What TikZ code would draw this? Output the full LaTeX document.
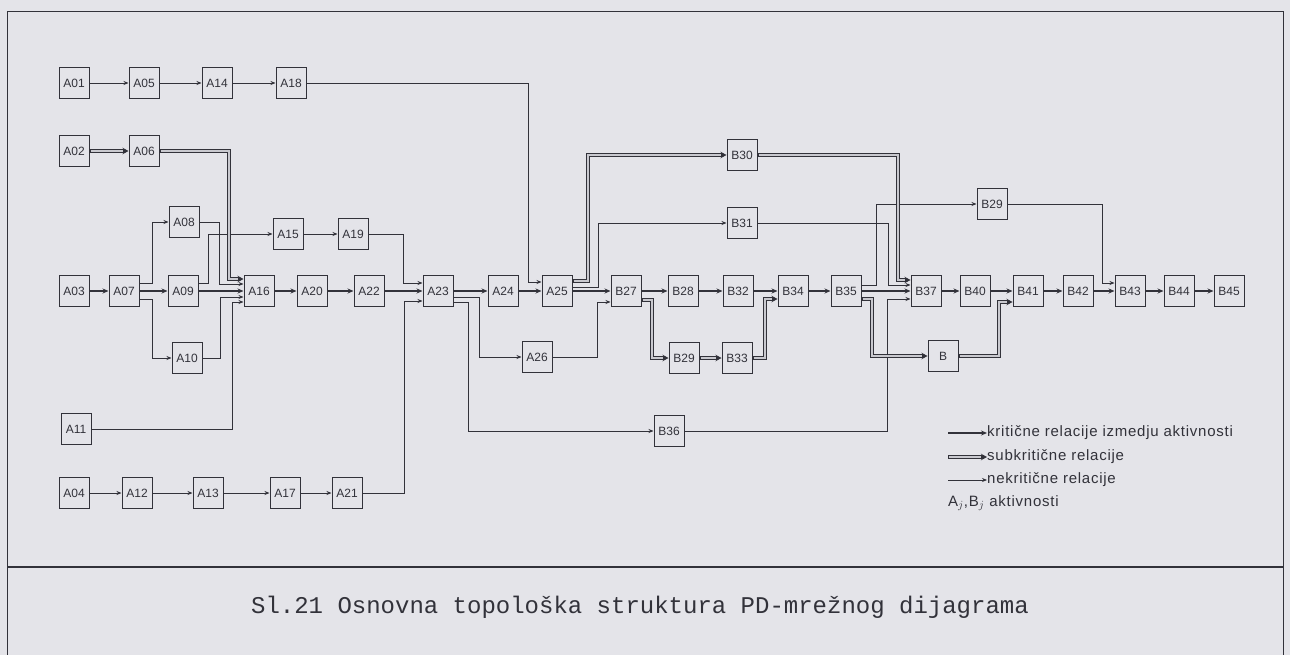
\documentclass[tikz,border=0pt]{standalone}
\usepackage{fontspec}
\setmainfont{Liberation Sans}
\newfontfamily\capfont{Liberation Mono}
\newfontfamily\legfont[LetterSpace=5]{Liberation Sans}
\usetikzlibrary{arrows.meta}
\definecolor{bg}{RGB}{228,228,233}
\definecolor{ink}{RGB}{50,50,58}
\begin{document}
\begin{tikzpicture}[x=1pt,y=-1pt,
  box/.style={draw=ink,line width=1pt,minimum width=30pt,minimum height=31pt,inner sep=0pt,font=\fontsize{12}{12}\selectfont,text=ink},
  nc/.style={draw=ink,line width=0.9pt,-{Stealth[length=5pt,width=4pt]}},
  cr/.style={draw=ink,line width=1.8pt,-{Stealth[length=6pt,width=5pt]}},
  sc/.style={draw=ink,line width=3.8pt,-{Stealth[length=6pt,width=6.5pt]},
     postaction={draw=bg!85!ink,line width=1.4pt,-,shorten >=6pt,shorten <=1.2pt}},
  legtext/.style={anchor=west,font=\legfont\fontsize{15}{15}\selectfont,text=ink,inner sep=0pt}
]
\fill[bg] (0,0) rectangle (1290,655);
\useasboundingbox (0,0) rectangle (1290,655);
\draw[ink,line width=1pt] (7,655) -- (7,12) -- (1283,12) -- (1283,655);
\draw[ink,line width=1.4pt] (7,567) -- (1283,567);
\node[font=\capfont\fontsize{24}{24}\selectfont,text=ink] (cap) at (640,607) {Sl.21 Osnovna topološka struktura PD-mrežnog dijagrama};

% nodes
\node[box] (A01) at (74,83) {A01};
\node[box] (A05) at (144,83) {A05};
\node[box] (A14) at (217,83) {A14};
\node[box] (A18) at (291,83) {A18};
\node[box] (A02) at (74,151) {A02};
\node[box] (A06) at (144,151) {A06};
\node[box] (A08) at (184,222) {A08};
\node[box] (A15) at (288,234) {A15};
\node[box] (A19) at (353,234) {A19};
\node[box] (A03) at (74,291) {A03};
\node[box] (A07) at (124,291) {A07};
\node[box] (A09) at (183,291) {A09};
\node[box] (A16) at (259,291) {A16};
\node[box] (A20) at (312,291) {A20};
\node[box] (A22) at (369,291) {A22};
\node[box] (A23) at (438,291) {A23};
\node[box] (A24) at (503,291) {A24};
\node[box] (A25) at (557,291) {A25};
\node[box] (B27) at (626,291) {B27};
\node[box] (B28) at (683,291) {B28};
\node[box] (B32) at (738,291) {B32};
\node[box] (B34) at (793,291) {B34};
\node[box] (B35) at (846,291) {B35};
\node[box] (B37) at (926,291) {B37};
\node[box] (B40) at (975,291) {B40};
\node[box] (B41) at (1028,291) {B41};
\node[box] (B42) at (1078,291) {B42};
\node[box] (B43) at (1130,291) {B43};
\node[box] (B44) at (1179,291) {B44};
\node[box] (B45) at (1229,291) {B45};
\node[box] (A10) at (187,358) {A10};
\node[box] (A11) at (76,429) {A11};
\node[box] (A04) at (74,493) {A04};
\node[box] (A12) at (137,493) {A12};
\node[box] (A13) at (208,493) {A13};
\node[box] (A17) at (285,493) {A17};
\node[box] (A21) at (347,493) {A21};
\node[box] (A26) at (537,357) {A26};
\node[box] (B29b) at (684,358) {B29};
\node[box] (B33) at (737,358) {B33};
\node[box] (B36) at (669,431) {B36};
\node[box] (B) at (943,356) {B};
\node[box] (B30) at (742,155) {B30};
\node[box] (B31) at (742,223) {B31};
\node[box] (B29t) at (992,204) {B29};

% non-critical
\draw[nc] (A01) -- (A05);
\draw[nc] (A05) -- (A14);
\draw[nc] (A14) -- (A18);
\draw[nc] (A18.east) -| (528,282) -- (A25.west |- 0,282);
\draw[nc] (A07.east |- 0,283) -- (152,283) |- (A08.west);
\draw[nc] (A07.east |- 0,299) -- (152,299) |- (A10.west);
\draw[nc] (A08.east) -| (219,284) -- (A16.west |- 0,284);
\draw[nc] (A09.east |- 0,283) -- (208,283) |- (A15.west);
\draw[nc] (A10.east) -| (220,297) -- (A16.west |- 0,297);
\draw[nc] (A11.east) -| (232,302) -- (A16.west |- 0,302);
\draw[nc] (A15) -- (A19);
\draw[nc] (A19.east) -| (403,283) -- (A23.west |- 0,283);
\draw[nc] (A04) -- (A12);
\draw[nc] (A12) -- (A13);
\draw[nc] (A13) -- (A17);
\draw[nc] (A17) -- (A21);
\draw[nc] (A21.east) -| (404,301) -- (A23.west |- 0,301);
\draw[nc] (A23.east |- 0,297) -- (479,297) |- (A26.west);
\draw[nc] (A23.east |- 0,302) -- (468,302) |- (B36.west);
\draw[nc] (A26.east) -| (597,302) -- (B27.west |- 0,302);
\draw[nc] (A25.east |- 0,287) -- (598,287) |- (B31.west);
\draw[nc] (B31.east) -| (888,285) -- (B37.west |- 0,285);
\draw[nc] (B35.east |- 0,285) -- (876,285) |- (B29t.west);
\draw[nc] (B29t.east) -| (1102,283) -- (B43.west |- 0,283);
\draw[nc] (B36.east) -| (887,299) -- (B37.west |- 0,299);

% sub-critical
\draw[sc] (A02) -- (A06);
\draw[sc] (A06.east) -| (229,279) -- (A16.west |- 0,279);
\draw[sc] (A25.east |- 0,281) -- (588,281) |- (B30.west);
\draw[sc] (B30.east) -| (898,280) -- (B37.west |- 0,280);
\draw[sc] (B27.east |- 0,300) -- (652,300) |- (B29b.west);
\draw[sc] (B29b) -- (B33);
\draw[sc] (B33.east) -| (765,299) -- (B34.west |- 0,299);
\draw[sc] (B35.east |- 0,299) -- (872,299) |- (B.west);
\draw[sc] (B.east) -| (999,302) -- (B41.west |- 0,302);

% critical
\draw[cr] (A03) -- (A07);
\draw[cr] (A07) -- (A09);
\draw[cr] (A09) -- (A16);
\draw[cr] (A16) -- (A20);
\draw[cr] (A20) -- (A22);
\draw[cr] (A22) -- (A23);
\draw[cr] (A23) -- (A24);
\draw[cr] (A24) -- (A25);
\draw[cr] (A25) -- (B27);
\draw[cr] (B27) -- (B28);
\draw[cr] (B28) -- (B32);
\draw[cr] (B32) -- (B34);
\draw[cr] (B34) -- (B35);
\draw[cr] (B35) -- (B37);
\draw[cr] (B37) -- (B40);
\draw[cr] (B40) -- (B41);
\draw[cr] (B41) -- (B42);
\draw[cr] (B42) -- (B43);
\draw[cr] (B43) -- (B44);
\draw[cr] (B44) -- (B45);

% legend
\node[legtext] (L1) at (987,433) {kritične relacije izmedju aktivnosti};
\node[legtext] (L2) at (987,457) {subkritične relacije};
\node[legtext] (L3) at (987,480) {nekritične relacije};
\node[legtext] (L4) at (948,503) {A$_j$,B$_j$ aktivnosti};
\coordinate (L1s) at (948,433);
\coordinate (L2s) at (948,457);
\coordinate (L3s) at (948,480);
\draw[cr] (L1s) -- (L1.west);
\draw[sc] (L2s) -- (L2.west);
\draw[nc] (L3s) -- (L3.west);
\end{tikzpicture}
\end{document}
